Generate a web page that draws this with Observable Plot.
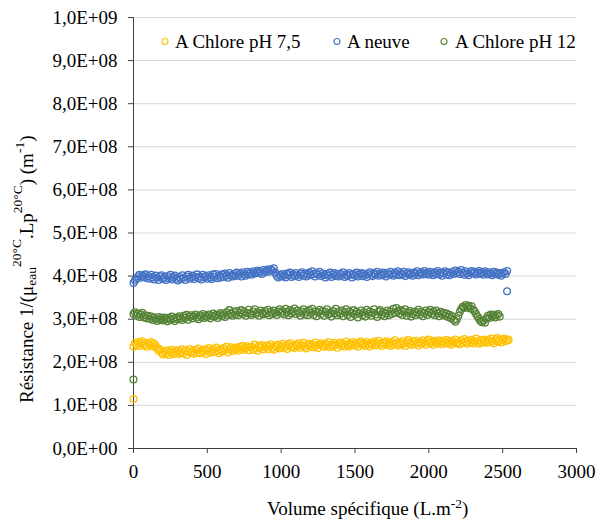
<!DOCTYPE html>
<html>
<head>
<meta charset="utf-8">
<script src="https://cdn.jsdelivr.net/npm/d3@7"></script>
<script src="https://cdn.jsdelivr.net/npm/@observablehq/plot@0.6"></script>
<style>
  html, body { margin: 0; padding: 0; background: #fff; }
  #chart { position: relative; width: 596px; height: 524px; }
</style>
</head>
<body>
<div id="chart"></div>
<script>
// Series names and colours
const seriesNames = ["A Chlore pH 7,5", "A neuve", "A Chlore pH 12"];
const seriesColors = ["#FFC000", "#4472C4", "#548235"];

// Axis ticks and labels
const xTicks = [0, 500, 1000, 1500, 2000, 2500, 3000];
const yTicks = [0, 1e8, 2e8, 3e8, 4e8, 5e8, 6e8, 7e8, 8e8, 9e8, 1e9];
const yTickLabels = ["0,0E+00", "1,0E+08", "2,0E+08", "3,0E+08", "4,0E+08", "5,0E+08",
                     "6,0E+08", "7,0E+08", "8,0E+08", "9,0E+08", "1,0E+09"];

// Volume spécifique (L.m-2) of successive measurements
const volume = [
  0,10,20,30,40,50,60,70,80,90, 100,110,120,130,140,150,160,170,180,190,
  200,210,220,230,240,250,260,270,280,290, 300,310,320,330,340,350,360,370,380,390,
  400,410,420,430,440,450,460,470,480,490, 500,510,520,530,540,550,560,570,580,590,
  600,610,620,630,640,650,660,670,680,690, 700,710,720,730,740,750,760,770,780,790,
  800,810,820,830,840,850,860,870,880,890, 900,910,920,930,940,950,960,970,980,990,
  1000,1010,1020,1030,1040,1050,1060,1070,1080,1090, 1100,1110,1120,1130,1140,1150,1160,1170,1180,1190,
  1200,1210,1220,1230,1240,1250,1260,1270,1280,1290, 1300,1310,1320,1330,1340,1350,1360,1370,1380,1390,
  1400,1410,1420,1430,1440,1450,1460,1470,1480,1490, 1500,1510,1520,1530,1540,1550,1560,1570,1580,1590,
  1600,1610,1620,1630,1640,1650,1660,1670,1680,1690, 1700,1710,1720,1730,1740,1750,1760,1770,1780,1790,
  1800,1810,1820,1830,1840,1850,1860,1870,1880,1890, 1900,1910,1920,1930,1940,1950,1960,1970,1980,1990,
  2000,2010,2020,2030,2040,2050,2060,2070,2080,2090, 2100,2110,2120,2130,2140,2150,2160,2170,2180,2190,
  2200,2210,2220,2230,2240,2250,2260,2270,2280,2290, 2300,2310,2320,2330,2340,2350,2360,2370,2380,2390,
  2400,2410,2420,2430,2440,2450,2460,2470,2480,2490, 2500,2510,2520,2530,2540
];

// Résistance (x 1E+08 m-1), one value per volume step
const chlore75 = [
  2.36,2.44,2.40,2.47,2.38,2.45,2.49,2.39,2.43,2.36, 2.45,2.40,2.47,2.37,2.43,2.38,2.33,2.27,2.30,2.22,
  2.18,2.25,2.20,2.27,2.17,2.24,2.29,2.19,2.26,2.21, 2.28,2.19,2.24,2.30,2.21,2.27,2.17,2.25,2.31,2.22,
  2.26,2.20,2.29,2.23,2.32,2.21,2.27,2.24,2.30,2.19, 2.28,2.33,2.22,2.26,2.31,2.24,2.34,2.27,2.21,2.30,
  2.25,2.33,2.28,2.36,2.23,2.30,2.35,2.26,2.32,2.29, 2.34,2.27,2.36,2.31,2.38,2.29,2.33,2.37,2.28,2.35,
  2.36,2.29,2.41,2.32,2.27,2.38,2.34,2.40,2.30,2.35, 2.39,2.31,2.37,2.42,2.33,2.29,2.38,2.35,2.41,2.32,
  2.36,2.43,2.34,2.39,2.31,2.40,2.44,2.35,2.38,2.33, 2.41,2.37,2.44,2.34,2.39,2.45,2.36,2.32,2.40,2.43,
  2.37,2.42,2.35,2.46,2.39,2.33,2.41,2.44,2.38,2.36, 2.43,2.39,2.47,2.35,2.41,2.37,2.45,2.40,2.34,2.42,
  2.46,2.38,2.43,2.36,2.48,2.41,2.37,2.44,2.40,2.47, 2.39,2.43,2.36,2.45,2.49,2.40,2.44,2.38,2.47,2.42,
  2.37,2.45,2.41,2.48,2.39,2.44,2.50,2.42,2.38,2.46, 2.43,2.49,2.40,2.45,2.38,2.47,2.42,2.51,2.44,2.39,
  2.46,2.41,2.49,2.43,2.38,2.47,2.52,2.44,2.40,2.48, 2.42,2.50,2.45,2.39,2.47,2.43,2.51,2.46,2.41,2.49,
  2.53,2.44,2.48,2.41,2.50,2.46,2.43,2.51,2.47,2.42, 2.49,2.45,2.52,2.43,2.48,2.41,2.50,2.46,2.53,2.44,
  2.47,2.42,2.51,2.45,2.54,2.48,2.43,2.50,2.46,2.52, 2.44,2.49,2.55,2.47,2.43,2.51,2.46,2.53,2.48,2.45,
  2.52,2.47,2.55,2.49,2.44,2.51,2.56,2.48,2.53,2.46, 2.51,2.55,2.49,2.53,2.52
];
const neuve = [
  3.84,3.90,3.94,3.99,4.03,3.96,4.01,3.98,4.04,3.95, 4.00,3.94,4.03,3.97,3.92,4.01,3.96,3.91,3.99,4.02,
  3.93,3.98,3.91,4.00,3.95,4.03,3.92,3.97,4.01,3.94, 3.90,3.98,3.93,4.02,3.96,3.91,3.99,4.03,3.94,3.97,
  4.01,3.93,3.98,4.04,3.95,3.99,3.92,4.03,3.97,4.00, 3.94,4.02,3.97,3.93,4.04,3.98,4.05,3.95,4.01,3.97,
  4.04,3.98,4.06,4.01,3.96,4.07,4.02,3.99,4.05,4.00, 4.08,4.02,4.06,3.99,4.09,4.04,4.01,4.10,4.05,4.08,
  4.03,4.11,4.06,4.09,4.13,4.07,4.11,4.05,4.14,4.09, 4.12,4.16,4.10,4.15,4.13,4.18,4.08,4.01,3.97,4.03,
  3.99,4.05,4.01,3.97,4.06,4.02,4.08,3.98,4.04,4.00, 4.07,4.02,3.98,4.05,4.09,4.01,4.06,3.99,4.04,4.08,
  4.02,4.11,4.05,3.99,4.07,4.03,4.10,4.00,4.06,4.02, 3.97,4.05,4.01,4.08,3.98,4.04,4.07,4.00,4.05,3.99,
  4.06,4.02,4.09,3.98,4.04,4.00,4.07,4.03,3.97,4.05, 4.01,4.08,3.99,4.04,4.07,4.00,4.06,4.02,3.98,4.05,
  4.09,4.03,4.00,4.07,4.04,4.10,4.01,4.06,4.02,4.08, 4.04,3.99,4.07,4.03,4.10,4.05,4.01,4.08,4.04,4.11,
  4.02,4.07,4.04,4.10,4.00,4.06,4.09,4.03,4.07,4.01, 4.08,4.05,4.11,4.02,4.06,4.09,4.04,4.12,4.05,4.08,
  4.03,4.10,4.06,4.02,4.09,4.05,4.12,4.04,4.08,4.01, 4.07,4.11,4.04,4.09,4.02,4.06,4.10,4.05,4.13,4.07,
  4.10,4.05,4.14,4.08,4.03,4.11,4.06,4.02,4.09,4.12, 4.06,4.10,4.04,4.08,4.12,4.05,4.09,4.03,4.11,4.07,
  4.04,4.09,4.06,4.02,4.10,4.05,4.08,4.03,4.07,4.01, 4.06,4.09,4.05,4.12
];
const chlore12 = [
  3.12,3.16,3.08,3.13,3.05,3.11,3.15,3.04,3.09,3.02, 3.08,3.01,3.06,2.98,3.04,3.00,2.96,3.05,2.99,3.03,
  2.97,3.04,3.00,2.95,3.03,2.98,3.06,3.01,2.96,3.04, 3.00,3.07,3.02,2.98,3.08,3.03,3.10,2.99,3.05,3.09,
  3.02,3.07,3.11,3.04,3.00,3.09,3.05,3.12,3.03,3.08, 3.05,3.11,3.02,3.08,3.13,3.06,3.10,3.03,3.09,3.14,
  3.07,3.12,3.05,3.16,3.10,3.21,3.13,3.08,3.17,3.11, 3.19,3.09,3.15,3.21,3.12,3.17,3.08,3.14,3.22,3.13,
  3.10,3.18,3.23,3.12,3.16,3.08,3.20,3.14,3.11,3.19, 3.13,3.22,3.09,3.17,3.12,3.20,3.15,3.10,3.18,3.23,
  3.14,3.19,3.11,3.24,3.16,3.09,3.21,3.13,3.18,3.25, 3.12,3.20,3.15,3.08,3.18,3.23,3.11,3.17,3.09,3.21,
  3.15,3.24,3.10,3.18,3.07,3.16,3.22,3.12,3.19,3.08, 3.17,3.23,3.11,3.15,3.06,3.19,3.13,3.24,3.09,3.17,
  3.12,3.20,3.07,3.16,3.23,3.10,3.18,3.05,3.14,3.21, 3.11,3.17,3.04,3.13,3.20,3.09,3.16,3.06,3.22,3.12,
  3.18,3.08,3.15,3.23,3.11,3.05,3.17,3.21,3.10,3.16, 3.07,3.14,3.20,3.09,3.18,3.12,3.24,3.15,3.26,3.19,
  3.13,3.21,3.10,3.17,3.23,3.08,3.15,3.19,3.06,3.12, 3.18,3.09,3.16,3.22,3.11,3.17,3.07,3.14,3.20,3.10,
  3.16,3.22,3.12,3.18,3.09,3.20,3.14,3.07,3.17,3.11, 3.15,3.08,3.13,3.05,3.10,3.02,3.07,2.98,2.94,3.00,
  3.08,3.17,3.24,3.29,3.26,3.33,3.28,3.31,3.25,3.30, 3.22,3.18,3.12,3.06,3.01,2.96,2.93,2.97,2.92,3.02,
  3.08,3.03,3.11,3.06,3.10,3.04,3.09,3.12,3.06
];

// Isolated points: [volume, résistance x 1E+08]
const chlore75Extra = [[0, 1.15]];
const neuveExtra = [[2530, 3.65]];
const chlore12Extra = [[0, 1.60]];

const seriesValues = [chlore75, neuve, chlore12];
const seriesExtras = [chlore75Extra, neuveExtra, chlore12Extra];

const rowsFor = (i) => seriesValues[i].map((v, k) => ({x: volume[k], y: v * 1e8}))
  .concat(seriesExtras[i].map(([x, v]) => ({x, y: v * 1e8})));

const font = "Liberation Serif, Times New Roman, serif";
const axisColor = "#404040";

const marks = [
  Plot.gridY(yTicks.slice(1), {stroke: "#d9d9d9", strokeOpacity: 1, strokeWidth: 1}),
  Plot.ruleX([0], {stroke: axisColor}),
  Plot.ruleY([0], {stroke: axisColor}),
  Plot.axisY(yTicks, {tickSize: 5, tickPadding: 11, stroke: axisColor, label: null,
    tickFormat: d => yTickLabels[yTicks.indexOf(d)]}),
  Plot.axisX(xTicks, {tickSize: 5, tickPadding: 11, stroke: axisColor, label: null,
    tickFormat: d => String(d)})
];
seriesValues.forEach((_, i) => {
  marks.push(Plot.dot(rowsFor(i), {x: "x", y: "y", r: 3.4, stroke: seriesColors[i], fill: "none", strokeWidth: 1.3}));
});

const svg = Plot.plot({
  width: 596, height: 524,
  marginLeft: 133, marginRight: 20, marginTop: 17, marginBottom: 76,
  style: {fontFamily: font, fontSize: "19px", color: "#000", background: "white", overflow: "visible"},
  x: {domain: [0, 3000]},
  y: {domain: [0, 1e9]},
  marks
});
document.getElementById("chart").appendChild(svg);

const s = d3.select(svg);

// Legend
const legendItems = [
  {cx: 165, tx: 175},
  {cx: 337, tx: 347},
  {cx: 444, tx: 455}
];
const lg = s.append("g").attr("font-family", font).attr("font-size", 19).attr("text-anchor", "start");
legendItems.forEach((p, i) => {
  lg.append("circle").attr("cx", p.cx).attr("cy", 41.5).attr("r", 3)
    .attr("fill", "none").attr("stroke", seriesColors[i]).attr("stroke-width", 1.1);
  lg.append("text").attr("x", p.tx).attr("y", 47.5).attr("fill", "#000").text(seriesNames[i]);
});

// X title
const xt = s.append("text").attr("x", 267).attr("y", 515).attr("text-anchor", "start")
  .attr("font-family", font).attr("font-size", 19).attr("fill", "#000");
xt.append("tspan").text("Volume spécifique (L.m");
xt.append("tspan").attr("font-size", 13.5).attr("dy", -7).text("-2");
xt.append("tspan").attr("dy", 7).text(")");

// Y title
const yt = s.append("text").attr("transform", "translate(33,403) rotate(-90)").attr("text-anchor", "start")
  .attr("font-family", font).attr("font-size", 19).attr("fill", "#000");
yt.append("tspan").text("Résistance 1/(μ");
yt.append("tspan").attr("font-size", 13.5).attr("dy", 3).text("eau");
yt.append("tspan").attr("font-size", 13.5).attr("dy", -15).text("20°C");
yt.append("tspan").attr("dy", 12).text(".Lp");
yt.append("tspan").attr("font-size", 13.5).attr("dy", -11).text("20°C");
yt.append("tspan").attr("dy", 11).text(") (m");
yt.append("tspan").attr("font-size", 13.5).attr("dy", -9).text("-1");
yt.append("tspan").attr("dy", 9).text(")");
</script>
</body>
</html>
